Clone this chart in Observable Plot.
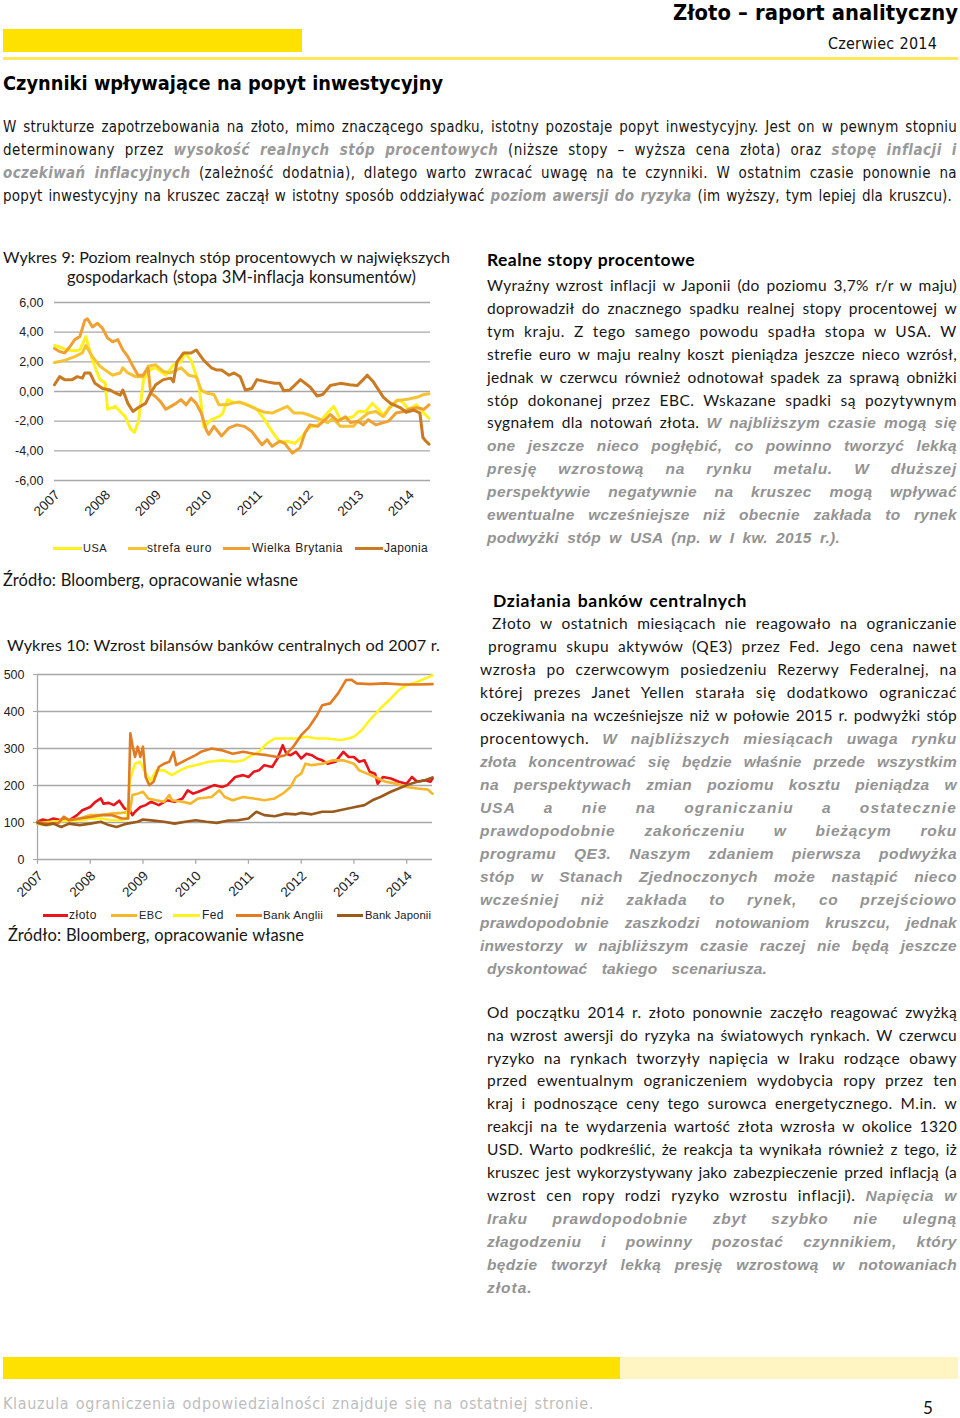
<!DOCTYPE html>
<html><head><meta charset="utf-8">
<script src="https://cdn.jsdelivr.net/npm/d3@7"></script>
<script src="https://cdn.jsdelivr.net/npm/@observablehq/plot@0.6"></script>
<style>
html,body{margin:0;padding:0;background:#fff;}
#page{position:relative;width:960px;height:1418px;overflow:hidden;background:#fff;}
.ln{position:absolute;white-space:normal;text-align:justify;text-align-last:justify;line-height:20px;height:20px;color:#161616;}
.body{font-family:Lato,"Open Sans",sans-serif;font-size:15.5px;}
.ttl{font-family:Lato,"Open Sans",sans-serif;font-size:16.5px;}
.cond{font-family:"Liberation Sans Narrow","DejaVu Sans Condensed",Roboto,sans-serif;font-size:15px;}
.g{color:#999;font-weight:bold;font-style:italic;}
.body .g{font-family:"Liberation Sans",Arial,sans-serif;font-size:1em;color:#939393;font-weight:900;}
.hd{font-weight:bold;}
.leg{font-family:"Liberation Sans",Arial,sans-serif;font-size:12px;color:#222;}
.chart{position:absolute;left:0;}
</style></head><body><div id="page"></div>
<script>
// ---------------- DATA ----------------
const years = [2007, 2008, 2009, 2010, 2011, 2012, 2013, 2014];
const rateTicks = [-6, -4, -2, 0, 2, 4, 6];
const balanceTicks = [0, 100, 200, 300, 400, 500];

// Wykres 9: real interest rates [decimal year, %]
const usa = [[2007.0,3.1],[2007.1,3.0],[2007.25,2.8],[2007.4,2.75],[2007.5,2.8],[2007.62,3.7],[2007.75,2.1],[2007.9,0.8],[2008.0,0.6],[2008.05,-1.2],[2008.2,-1.0],[2008.3,-1.35],[2008.4,-1.7],[2008.5,-2.5],[2008.58,-2.75],[2008.66,-2.0],[2008.76,0.8],[2008.9,1.5],[2009.0,1.6],[2009.2,1.1],[2009.35,1.8],[2009.5,2.0],[2009.58,2.6],[2009.7,2.1],[2009.85,0.55],[2009.95,-2.4],[2010.1,-1.9],[2010.25,-1.7],[2010.32,-1.5],[2010.42,-0.55],[2010.55,-0.75],[2010.75,-0.8],[2010.9,-1.0],[2011.0,-1.2],[2011.15,-1.9],[2011.3,-2.7],[2011.45,-3.4],[2011.6,-3.35],[2011.75,-3.5],[2011.9,-3.0],[2012.0,-2.5],[2012.2,-2.25],[2012.39,-1.45],[2012.52,-1.0],[2012.65,-1.9],[2012.9,-1.7],[2013.0,-1.35],[2013.15,-1.35],[2013.28,-0.8],[2013.4,-1.2],[2013.5,-1.6],[2013.65,-0.9],[2013.8,-0.55],[2013.9,-0.8],[2014.0,-1.2],[2014.15,-0.9],[2014.3,-1.45],[2014.4,-1.8]];
const euro = [[2007.0,1.95],[2007.2,2.1],[2007.4,2.35],[2007.55,2.6],[2007.62,3.1],[2007.75,2.35],[2007.9,1.7],[2008.0,1.45],[2008.15,1.1],[2008.3,1.25],[2008.35,1.6],[2008.45,1.25],[2008.6,1.0],[2008.75,1.0],[2008.85,1.7],[2009.0,1.8],[2009.15,1.35],[2009.3,1.25],[2009.5,1.6],[2009.65,1.1],[2009.8,1.0],[2009.9,0.1],[2010.0,-0.1],[2010.15,-0.2],[2010.25,-0.9],[2010.4,-0.9],[2010.5,-0.8],[2010.65,-0.7],[2010.8,-0.9],[2011.0,-1.2],[2011.15,-1.4],[2011.3,-1.45],[2011.6,-1.0],[2011.73,-1.45],[2011.9,-1.45],[2012.0,-1.55],[2012.26,-1.9],[2012.4,-2.1],[2012.5,-1.8],[2012.65,-2.35],[2012.9,-2.35],[2013.0,-2.0],[2013.2,-1.45],[2013.35,-1.35],[2013.5,-1.7],[2013.6,-1.2],[2013.77,-0.6],[2013.9,-0.55],[2014.0,-0.5],[2014.2,-0.35],[2014.3,-0.2],[2014.4,-0.15]];
const uk = [[2007.0,2.9],[2007.1,2.7],[2007.2,2.6],[2007.3,3.0],[2007.4,3.5],[2007.5,3.7],[2007.6,4.8],[2007.65,4.9],[2007.75,4.35],[2007.85,4.6],[2007.95,4.25],[2008.05,3.6],[2008.15,3.35],[2008.25,3.5],[2008.35,2.8],[2008.45,2.35],[2008.55,1.7],[2008.65,1.1],[2008.75,1.1],[2008.85,1.6],[2008.9,-0.1],[2009.0,-0.35],[2009.1,-0.7],[2009.2,-1.2],[2009.3,-1.0],[2009.4,-0.8],[2009.5,-0.55],[2009.6,-0.9],[2009.7,-0.45],[2009.8,-0.8],[2009.9,-1.45],[2010.0,-2.6],[2010.05,-2.9],[2010.15,-2.35],[2010.3,-3.0],[2010.45,-2.45],[2010.6,-2.25],[2010.75,-2.35],[2010.9,-2.7],[2011.0,-3.15],[2011.1,-3.6],[2011.2,-3.25],[2011.3,-3.7],[2011.45,-3.35],[2011.55,-3.5],[2011.7,-4.15],[2011.85,-3.8],[2011.95,-2.8],[2012.05,-2.25],[2012.2,-2.35],[2012.35,-1.9],[2012.45,-1.55],[2012.6,-2.0],[2012.75,-1.7],[2012.85,-2.1],[2013.0,-2.0],[2013.1,-2.25],[2013.2,-1.9],[2013.35,-2.25],[2013.5,-2.1],[2013.6,-2.0],[2013.75,-1.45],[2013.9,-1.35],[2014.0,-1.2],[2014.15,-1.1],[2014.3,-1.2],[2014.4,-0.9]];
const japan = [[2007.0,0.45],[2007.1,1.0],[2007.2,0.8],[2007.35,0.8],[2007.45,1.0],[2007.55,0.9],[2007.6,1.25],[2007.7,1.25],[2007.8,0.55],[2007.95,0.2],[2008.1,0.1],[2008.2,-0.1],[2008.3,-0.25],[2008.35,0.1],[2008.45,-0.8],[2008.55,-1.35],[2008.65,-1.1],[2008.8,-0.8],[2008.9,-0.1],[2009.0,0.45],[2009.15,0.8],[2009.3,0.9],[2009.35,0.65],[2009.42,2.0],[2009.55,2.6],[2009.7,2.6],[2009.8,2.8],[2009.95,2.1],[2010.1,1.6],[2010.2,1.45],[2010.3,1.45],[2010.45,1.1],[2010.55,1.25],[2010.67,1.0],[2010.77,0.1],[2010.9,0.2],[2011.0,0.8],[2011.2,0.65],[2011.35,0.55],[2011.45,0.55],[2011.53,0.05],[2011.65,0.1],[2011.86,0.8],[2012.05,0.3],[2012.19,-0.3],[2012.3,-0.2],[2012.45,0.4],[2012.65,0.55],[2012.83,0.45],[2012.98,0.4],[2013.1,0.8],[2013.18,1.1],[2013.3,0.65],[2013.5,-0.4],[2013.64,-0.8],[2013.84,-1.1],[2013.95,-1.4],[2014.1,-1.25],[2014.22,-1.45],[2014.28,-3.1],[2014.34,-3.35],[2014.4,-3.55]];

// Wykres 10: central bank balance sheets (2007 = 100) [decimal year, index]
const zloto = [[2007.0,102],[2007.1,108],[2007.2,105],[2007.3,111],[2007.45,106],[2007.6,106],[2007.75,120],[2007.85,133],[2008.0,142],[2008.1,156],[2008.2,165],[2008.25,151],[2008.35,153],[2008.45,147],[2008.55,159],[2008.65,138],[2008.75,133],[2008.8,120],[2008.85,129],[2008.95,142],[2009.05,147],[2009.15,156],[2009.3,147],[2009.45,160],[2009.6,156],[2009.75,165],[2009.85,187],[2009.95,178],[2010.05,183],[2010.2,192],[2010.35,201],[2010.5,196],[2010.6,201],[2010.75,223],[2010.9,228],[2011.0,223],[2011.1,237],[2011.2,241],[2011.3,255],[2011.45,250],[2011.55,273],[2011.65,309],[2011.72,286],[2011.8,282],[2011.9,291],[2012.0,273],[2012.1,286],[2012.2,282],[2012.3,273],[2012.4,268],[2012.5,259],[2012.65,264],[2012.75,282],[2012.8,291],[2012.9,277],[2013.0,277],[2013.1,264],[2013.2,268],[2013.3,237],[2013.4,232],[2013.45,205],[2013.55,223],[2013.7,219],[2013.85,210],[2014.0,205],[2014.1,223],[2014.2,210],[2014.35,214],[2014.45,210],[2014.49,219]];
const ebc = [[2007.0,97],[2007.2,93],[2007.4,102],[2007.5,115],[2007.6,106],[2007.8,111],[2008.0,120],[2008.2,120],[2008.4,124],[2008.6,126],[2008.75,129],[2008.8,174],[2008.9,178],[2009.0,183],[2009.1,165],[2009.25,160],[2009.4,156],[2009.5,174],[2009.55,160],[2009.75,156],[2009.9,151],[2010.05,165],[2010.3,169],[2010.45,187],[2010.55,169],[2010.7,160],[2010.9,169],[2011.1,165],[2011.3,160],[2011.5,165],[2011.65,178],[2011.8,196],[2011.9,223],[2012.0,232],[2012.08,259],[2012.2,255],[2012.4,259],[2012.6,268],[2012.8,268],[2013.0,259],[2013.1,241],[2013.25,232],[2013.4,223],[2013.6,210],[2013.8,205],[2014.0,196],[2014.2,192],[2014.4,189],[2014.49,178]];
const fed = [[2007.0,99],[2007.3,102],[2007.6,105],[2007.85,106],[2008.0,111],[2008.2,111],[2008.4,106],[2008.6,106],[2008.7,111],[2008.75,214],[2008.85,259],[2008.95,264],[2009.05,232],[2009.15,214],[2009.25,241],[2009.4,241],[2009.55,228],[2009.7,241],[2009.85,250],[2010.0,255],[2010.25,264],[2010.5,268],[2010.75,264],[2010.9,268],[2011.0,277],[2011.2,291],[2011.35,314],[2011.5,327],[2011.7,327],[2011.9,327],[2012.1,332],[2012.3,327],[2012.5,327],[2012.75,323],[2012.9,327],[2013.0,332],[2013.15,350],[2013.3,377],[2013.5,408],[2013.7,435],[2013.85,458],[2014.0,471],[2014.2,480],[2014.35,489],[2014.49,498]];
const boe = [[2007.0,102],[2007.2,97],[2007.4,99],[2007.5,115],[2007.6,106],[2007.8,111],[2008.0,115],[2008.2,120],[2008.4,120],[2008.6,111],[2008.72,111],[2008.76,341],[2008.8,309],[2008.85,277],[2008.9,305],[2008.95,277],[2009.0,305],[2009.05,223],[2009.12,201],[2009.2,210],[2009.3,250],[2009.4,259],[2009.5,264],[2009.58,291],[2009.63,255],[2009.8,268],[2010.0,282],[2010.1,291],[2010.3,300],[2010.5,295],[2010.7,286],[2010.9,291],[2011.1,286],[2011.35,282],[2011.55,277],[2011.7,282],[2011.85,305],[2012.0,336],[2012.15,358],[2012.3,390],[2012.4,417],[2012.55,422],[2012.7,449],[2012.85,485],[2012.95,486],[2013.05,476],[2013.3,474],[2013.6,476],[2013.9,473],[2014.2,473],[2014.49,474]];
const boj = [[2007.0,99],[2007.15,93],[2007.3,97],[2007.45,88],[2007.6,97],[2007.8,93],[2008.0,97],[2008.2,102],[2008.35,93],[2008.5,88],[2008.7,97],[2008.9,102],[2009.0,108],[2009.2,105],[2009.4,102],[2009.6,97],[2009.8,102],[2010.0,106],[2010.2,102],[2010.4,99],[2010.6,105],[2010.8,106],[2011.0,111],[2011.15,129],[2011.3,120],[2011.5,117],[2011.7,124],[2011.9,122],[2012.0,126],[2012.2,122],[2012.4,129],[2012.6,129],[2012.8,135],[2013.0,141],[2013.2,147],[2013.35,160],[2013.5,169],[2013.7,183],[2013.85,192],[2014.0,201],[2014.2,210],[2014.35,214],[2014.49,222]];

const rateNames = ["USA", "strefa euro", "Wielka Brytania", "Japonia"];
const balanceNames = ["złoto", "EBC", "Fed", "Bank Anglii", "Bank Japonii"];

// ---------------- STYLE ----------------
const rateColors = ["#FFF01E", "#F5C234", "#F0A032", "#C97A22"];
const balColors = ["#E8151C", "#F5B62A", "#FFF21E", "#E07B22", "#9A5A1C"];
const grid = "#a8a8a8";

const page = document.getElementById("page");
function rect(x, y, w, h, c) {
  const d = document.createElement("div");
  Object.assign(d.style, {position: "absolute", left: x + "px", top: y + "px", width: w + "px", height: h + "px", background: c});
  page.appendChild(d);
}
function line(x, yc, x2, html, cls, extra, share) {
  const d = document.createElement("div");
  d.className = "ln " + cls;
  d.innerHTML = html;
  d.style.left = x + "px";
  d.style.top = (yc - 10) + "px";
  d.dataset.w = x2 - x;
  if (share != null) d.dataset.share = share;
  d.style.width = (x2 - x) + "px";
  if (extra) Object.assign(d.style, extra);
  page.appendChild(d);
  return d;
}
const G = s => `<span class="g">${s}</span>`;

// Header
line(673, 13, 958, "Złoto – raport analityczny", "cond", {fontSize: "23px", fontWeight: "bold", color: "#000"}, 0.85);
rect(3, 29, 299, 23, "#FFE100");
line(828, 44, 937, "Czerwiec 2014", "cond", {fontSize: "16px", color: "#111"}, 0.85);
rect(3, 57, 955, 3, "#FFE75C");
line(3, 84, 443, "Czynniki wpływające na popyt inwestycyjny", "cond", {fontSize: "20px", fontWeight: "bold", color: "#000"}, 0.85);

// Intro
const intro = [
  "W strukturze zapotrzebowania na złoto, mimo znaczącego spadku, istotny pozostaje popyt inwestycyjny. Jest on w pewnym stopniu",
  `determinowany przez ${G("wysokość realnych stóp procentowych")} (niższe stopy – wyższa cena złota) oraz ${G("stopę inflacji i")}`,
  `${G("oczekiwań inflacyjnych")} (zależność dodatnia), dlatego warto zwracać uwagę na te czynniki. W ostatnim czasie ponownie na`,
  `popyt inwestycyjny na kruszec zaczął w istotny sposób oddziaływać ${G("poziom awersji do ryzyka")} (im wyższy, tym lepiej dla kruszcu).`
];
intro.forEach((t, i) => line(3, 127 + 23 * i, i === 3 ? 952 : 957, t, "cond"));

// Left column texts
line(3, 257, 450, "Wykres 9: Poziom realnych stóp procentowych w największych", "ttl", null, 0.7);
line(67, 277, 416, "gospodarkach (stopa 3M-inflacja konsumentów)", "ttl", null, 0.7);
line(3, 580, 298, "Źródło: Bloomberg, opracowanie własne", "ttl", null, 0.7);
line(7, 645, 440, "Wykres 10: Wzrost bilansów banków centralnych od 2007 r.", "ttl", null, 0.7);
line(8, 935, 304, "Źródło: Bloomberg, opracowanie własne", "ttl", null, 0.7);

// Right column, section 1
line(487, 260, 695, "Realne stopy procentowe", "body hd", {color: "#000", fontSize: "17.5px"}, 0.85);
const s1 = [
  "Wyraźny wzrost inflacji w Japonii (do poziomu 3,7% r/r w maju)",
  "doprowadził do znacznego spadku realnej stopy procentowej w",
  "tym kraju. Z tego samego powodu spadła stopa w USA. W",
  "strefie euro w maju realny koszt pieniądza jeszcze nieco wzrósł,",
  "jednak w czerwcu również odnotował spadek za sprawą obniżki",
  "stóp dokonanej przez EBC. Wskazane spadki są pozytywnym",
  `sygnałem dla notowań złota. ${G("W najbliższym czasie mogą się")}`,
  G("one jeszcze nieco pogłębić, co powinno tworzyć lekką"),
  G("presję wzrostową na rynku metalu. W dłuższej"),
  G("perspektywie negatywnie na kruszec mogą wpływać"),
  G("ewentualne wcześniejsze niż obecnie zakłada to rynek"),
  G("podwyżki stóp w USA (np. w I kw. 2015 r.).")
];
s1.forEach((t, i) => line(487, 285 + 22.9 * i, i === 11 ? 840 : 957, t, "body", null, i >= 7 ? 0.25 : 0.45));

// Section 2
line(493, 600.7, 747, "Działania banków centralnych", "body hd", {color: "#000", fontSize: "17.5px"}, 0.85);
const s2 = [
  "Złoto w ostatnich miesiącach nie reagowało na ograniczanie",
  "programu skupu aktywów (QE3) przez Fed. Jego cena nawet",
  "wzrosła po czerwcowym posiedzeniu Rezerwy Federalnej, na",
  "której prezes Janet Yellen starała się dodatkowo ograniczać",
  "oczekiwania na wcześniejsze niż w połowie 2015 r. podwyżki stóp",
  `procentowych. ${G("W najbliższych miesiącach uwaga rynku")}`,
  G("złota koncentrować się będzie właśnie przede wszystkim"),
  G("na perspektywach zmian poziomu kosztu pieniądza w"),
  G("USA a nie na ograniczaniu a ostatecznie"),
  G("prawdopodobnie zakończeniu w bieżącym roku"),
  G("programu QE3. Naszym zdaniem pierwsza podwyżka"),
  G("stóp w Stanach Zjednoczonych może nastąpić nieco"),
  G("wcześniej niż zakłada to rynek, co przejściowo"),
  G("prawdopodobnie zaszkodzi notowaniom kruszcu, jednak"),
  G("inwestorzy w najbliższym czasie raczej nie będą jeszcze"),
  G("dyskontować takiego scenariusza.")
];
const s2x = [492, 488, 480, 480, 480, 480, 480, 480, 480, 480, 480, 480, 480, 480, 480, 487];
s2.forEach((t, i) => line(s2x[i], 623.3 + 23 * i, i === 15 ? 767 : 957, t, "body", null, i >= 6 ? 0.25 : 0.45));

// Section 3
const s3 = [
  "Od początku 2014 r. złoto ponownie zaczęło reagować zwyżką",
  "na wzrost awersji do ryzyka na światowych rynkach. W czerwcu",
  "ryzyko na rynkach tworzyły napięcia w Iraku rodzące obawy",
  "przed ewentualnym ograniczeniem wydobycia ropy przez ten",
  "kraj i podnoszące ceny tego surowca energetycznego. M.in. w",
  "reakcji na te wydarzenia wartość złota wzrosła w okolice 1320",
  "USD. Warto podkreślić, że reakcja ta wynikała również z tego, iż",
  "kruszec jest wykorzystywany jako zabezpieczenie przed inflacją (a",
  `wzrost cen ropy rodzi ryzyko wzrostu inflacji). ${G("Napięcia w")}`,
  G("Iraku prawdopodobnie zbyt szybko nie ulegną"),
  G("złagodzeniu i powinny pozostać czynnikiem, który"),
  G("będzie tworzył lekką presję wzrostową w notowaniach"),
  G("złota.")
];
s3.forEach((t, i) => line(487, 1011.7 + 22.92 * i, i === 12 ? 533 : 957, t, "body", null, i >= 9 ? 0.25 : 0.45));

// Footer
rect(3, 1357, 617, 22, "#FFE100");
rect(620, 1357, 338, 22, "#FFF5C2");
line(3, 1404, 594, "Klauzula ograniczenia odpowiedzialności znajduje się na ostatniej stronie.", "cond", {color: "#bdbdbd", fontSize: "16px"}, 0.85);
const pn = document.createElement("div");
Object.assign(pn.style, {position: "absolute", left: "923px", top: "1399px", fontFamily: "Lato, sans-serif", fontSize: "17px", lineHeight: "17px", color: "#111"});
pn.textContent = "5";
page.appendChild(pn);

// Legends
function legend(items, yc) {
  items.forEach(([sx1, sx2, tx1, tx2, name, color]) => {
    rect(sx1, yc - 1.5, sx2 - sx1, 3, color);
    line(tx1, yc, tx2, name, "leg", null, 0.9);
  });
}
legend([
  [53, 82, 83, 107, rateNames[0], rateColors[0]],
  [128, 147, 147, 212, rateNames[1], rateColors[1]],
  [223, 250, 252, 343, rateNames[2], rateColors[2]],
  [355, 383, 384, 428, rateNames[3], rateColors[3]]
], 548);
legend([
  [43, 68, 69, 97, balanceNames[0], balColors[0]],
  [111, 137, 139, 163, balanceNames[1], balColors[1]],
  [173, 200, 202, 224, balanceNames[2], balColors[2]],
  [236, 262, 263, 323, balanceNames[3], balColors[3]],
  [337, 363, 365, 431, balanceNames[4], balColors[4]]
], 915);

// ---------------- CHARTS ----------------
const fmtPL = d => d.toFixed(2).replace(".", ",");
const plotStyle = {fontFamily: '"Liberation Sans", Arial, sans-serif', fontSize: "12.5px", color: "#222", background: "transparent", overflow: "visible"};

const rateSeries = [usa, euro, uk, japan];
const c1 = Plot.plot({
  width: 450, height: 230, marginLeft: 54, marginRight: 20, marginTop: 12, marginBottom: 40,
  style: plotStyle,
  x: {domain: [2007, 2014.43], axis: null},
  y: {domain: [-6, 6], axis: null},
  marks: [
    Plot.ruleY(rateTicks, {stroke: grid, strokeWidth: 1.3}),
    Plot.axisY(rateTicks, {tickSize: 0, tickPadding: 11, tickFormat: fmtPL, fontSize: 12.5, label: null}),
    ...rateSeries.map((s, i) => Plot.line(s, {x: d => d[0], y: d => d[1], stroke: rateColors[i], strokeWidth: 3})),
    Plot.text(years, {x: d => d, y: -6, text: d => String(d), rotate: -45, textAnchor: "end", dx: 3, dy: 12, fontSize: 13.5, fill: "#222"})
  ]
});
const w1 = document.createElement("div");
w1.className = "chart"; w1.style.top = "290px";
w1.appendChild(c1); page.appendChild(w1);

const balSeries = [zloto, ebc, fed, boe, boj];
const c2 = Plot.plot({
  width: 450, height: 235, marginLeft: 37, marginRight: 18, marginTop: 10, marginBottom: 40,
  style: plotStyle,
  x: {domain: [2007, 2014.49], axis: null},
  y: {domain: [0, 500], axis: null},
  marks: [
    Plot.ruleY(balanceTicks, {stroke: grid, strokeWidth: 1.3}),
    Plot.ruleX([2007], {y1: 0, y2: 500, stroke: grid, strokeWidth: 1.3}),
    Plot.ruleX(years, {x: d => d, y1: 0, y2: -13, stroke: grid, strokeWidth: 1.3}),
    Plot.axisY(balanceTicks, {tickSize: 4, tickPadding: 9, stroke: grid, fontSize: 12.5, label: null}),
    ...balSeries.map((s, i) => Plot.line(s, {x: d => d[0], y: d => d[1], stroke: balColors[i], strokeWidth: 2.6})),
    Plot.text(years, {x: d => d, y: 0, text: d => String(d), rotate: -45, textAnchor: "end", dx: 3, dy: 14, fontSize: 13.5, fill: "#222"})
  ]
});
const w2 = document.createElement("div");
w2.className = "chart"; w2.style.top = "664px";
w2.appendChild(c2); page.appendChild(w2);

// ---------------- fit text lines to measured widths ----------------
function fit() {
  for (const el of page.querySelectorAll(".ln")) {
    const W = +el.dataset.w;
    if (!el.dataset.fs) el.dataset.fs = parseFloat(getComputedStyle(el).fontSize);
    let fs = +el.dataset.fs;
    el.style.letterSpacing = "0px";
    el.style.fontSize = fs + "px";
    el.style.width = "auto";
    el.style.whiteSpace = "nowrap";
    let nat = el.getBoundingClientRect().width;
    while (nat > W - 1 && fs > 6) { fs -= 0.25; el.style.fontSize = fs + "px"; nat = el.getBoundingClientRect().width; }
    const txt = el.textContent;
    const n = txt.length;
    const spaces = (txt.match(/ /g) || []).length;
    let share = el.dataset.share != null ? +el.dataset.share : 0.45;
    if (spaces === 0) share = 0.95;
    const ls = Math.max(0, Math.min(2.5, (W - nat) * share / n));
    el.style.letterSpacing = ls + "px";
    el.style.width = W + "px";
    el.style.whiteSpace = "normal";
  }
}
fit();
if (document.fonts && document.fonts.ready) document.fonts.ready.then(fit);
</script>
</body></html>
